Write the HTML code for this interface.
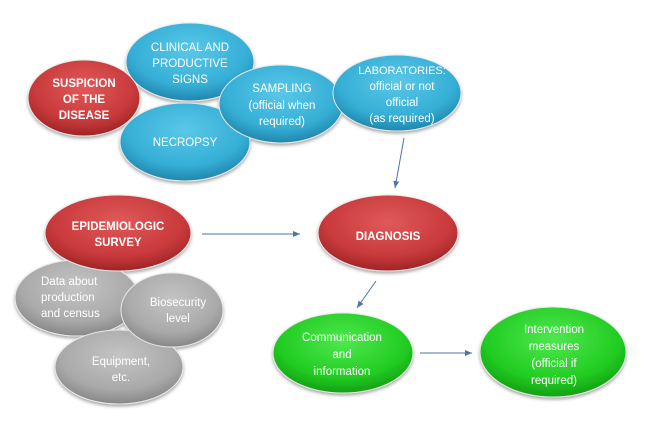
<!DOCTYPE html>
<html><head><meta charset="utf-8"><style>
html,body{margin:0;padding:0;background:#fff;}
svg{display:block;}
text{font-family:"Liberation Sans",sans-serif;font-size:11.5px;fill:#fff;text-anchor:middle;}
.b{font-weight:bold;}
.s{font-size:11px;}
</style></head><body>
<svg width="648" height="432" viewBox="0 0 648 432">
<defs>
<radialGradient id="red" cx="50%" cy="35%" r="65%"><stop offset="0" stop-color="#e05a5a"/><stop offset="0.7" stop-color="#c8393b"/><stop offset="1" stop-color="#9e2426"/></radialGradient>
<radialGradient id="blue" cx="50%" cy="35%" r="65%"><stop offset="0" stop-color="#5ac8e8"/><stop offset="0.7" stop-color="#35aed6"/><stop offset="1" stop-color="#2186ab"/></radialGradient>
<radialGradient id="gray" cx="50%" cy="35%" r="65%"><stop offset="0" stop-color="#c4c4c4"/><stop offset="0.7" stop-color="#a9a9a9"/><stop offset="1" stop-color="#878787"/></radialGradient>
<radialGradient id="green" cx="50%" cy="35%" r="65%"><stop offset="0" stop-color="#4ee84e"/><stop offset="0.7" stop-color="#22cc22"/><stop offset="1" stop-color="#14a014"/></radialGradient>
<filter id="sh" x="-20%" y="-20%" width="140%" height="150%"><feDropShadow dx="0" dy="2" stdDeviation="1.5" flood-color="#000" flood-opacity="0.35"/></filter>
<marker id="ar" markerWidth="8" markerHeight="8" refX="7" refY="4" orient="auto" markerUnits="userSpaceOnUse"><path d="M0,1 L7,4 L0,7 Z" fill="#4a76a8"/></marker>
</defs>
<g stroke="#e8e8e8" stroke-width="1" filter="url(#sh)">
<ellipse cx="84" cy="98" rx="56" ry="38" fill="url(#red)"/>
<ellipse cx="190" cy="62" rx="64" ry="39" fill="url(#blue)"/>
<ellipse cx="185" cy="142" rx="65" ry="39" fill="url(#blue)"/>
<ellipse cx="281" cy="104" rx="62" ry="39" fill="url(#blue)"/>
<ellipse cx="397" cy="93" rx="64" ry="38" fill="url(#blue)"/>
<ellipse cx="77" cy="298" rx="62" ry="38" fill="url(#gray)"/>
<ellipse cx="119" cy="367" rx="64" ry="37" fill="url(#gray)"/>
<ellipse cx="172" cy="310" rx="51" ry="37" fill="url(#gray)"/>
<ellipse cx="118" cy="233" rx="73" ry="38" fill="url(#red)"/>
<ellipse cx="388" cy="233" rx="70" ry="38" fill="url(#red)"/>
<ellipse cx="343" cy="353" rx="70" ry="40" fill="url(#green)"/>
<ellipse cx="553" cy="352" rx="73" ry="45" fill="url(#green)"/>
</g>
<g stroke="#4a76a8" stroke-width="1" fill="none">
<line x1="404" y1="138" x2="395" y2="188" marker-end="url(#ar)"/>
<line x1="202" y1="234" x2="300" y2="234" marker-end="url(#ar)"/>
<line x1="376" y1="281" x2="357" y2="308" marker-end="url(#ar)"/>
<line x1="420" y1="353" x2="472" y2="353" marker-end="url(#ar)"/>
</g>
<text class="b" x="84" y="87">SUSPICION</text>
<text class="b" x="84" y="103">OF THE</text>
<text class="b" x="84" y="119">DISEASE</text>
<text x="190" y="51">CLINICAL AND</text>
<text x="190" y="67">PRODUCTIVE</text>
<text x="190" y="83">SIGNS</text>
<text x="185" y="146">NECROPSY</text>
<text x="282" y="92">SAMPLING</text>
<text x="282" y="109">(official when</text>
<text x="282" y="125">required)</text>
<text class="s" x="402" y="74">LABORATORIES:</text>
<text x="402" y="90">official or not</text>
<text x="402" y="106">official</text>
<text x="402" y="122">(as required)</text>
<text class="b" x="118" y="230">EPIDEMIOLOGIC</text>
<text class="b" x="118" y="246">SURVEY</text>
<text x="41" y="285" style="text-anchor:start">Data about</text>
<text x="41" y="301" style="text-anchor:start">production</text>
<text x="41" y="317" style="text-anchor:start">and census</text>
<text x="178" y="306">Biosecurity</text>
<text x="178" y="322">level</text>
<text x="121" y="365">Equipment,</text>
<text x="121" y="381">etc.</text>
<text class="b" x="388" y="240">DIAGNOSIS</text>
<text x="342" y="341">Communication</text>
<text x="342" y="358">and</text>
<text x="342" y="375">information</text>
<text x="554" y="333">Intervention</text>
<text x="554" y="350">measures</text>
<text x="554" y="367">(official if</text>
<text x="554" y="384">required)</text>
</svg>
</body></html>
